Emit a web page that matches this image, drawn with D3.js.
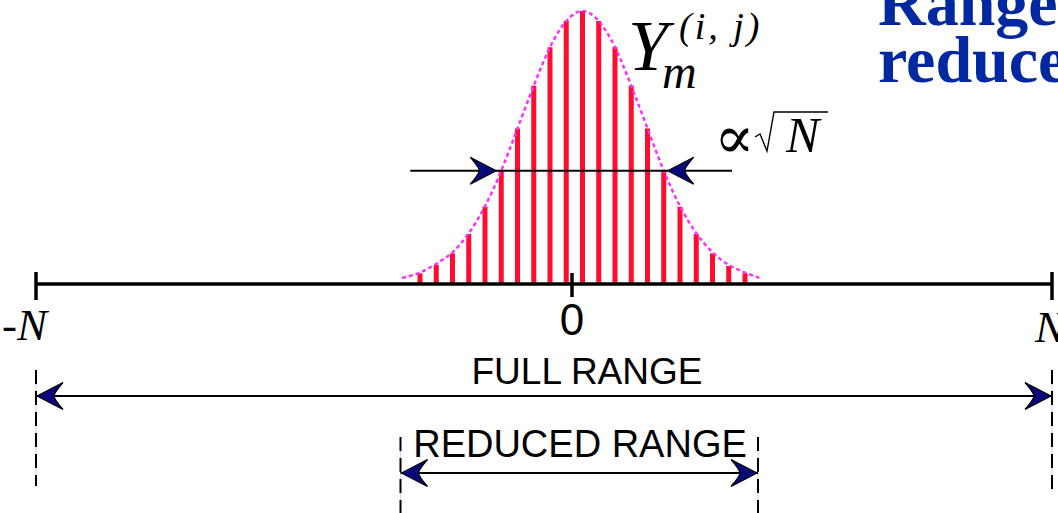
<!DOCTYPE HTML>
<html>
<head>
	<title>Full range vs reduced range</title>
	<meta http-equiv="Content-Type" content="text/html; charset=utf-8">

	<script src="https://cdn.jsdelivr.net/npm/d3@7/dist/d3.min.js"></script>

	<style type="text/css">
		body {
			margin:           0;
			background-color: #ffffff;
		}
		.bar {
			stroke:           #ff0d2e;
			stroke-width:     5;
		}
		.curve {
			fill:             none;
			stroke:           #ff2bff;
			stroke-width:     2.4;
			stroke-dasharray: 4,3;
		}
		.axis {
			stroke:           #000000;
			stroke-width:     3.5;
		}
		.guide {
			stroke:           #000000;
			stroke-width:     2;
			stroke-dasharray: 14,7;
		}
		.shaft {
			stroke:           #000000;
			stroke-width:     2;
		}
		.head {
			fill:             #08087a;
			stroke:           #000000;
			stroke-width:     1.2;
			stroke-linejoin:  miter;
		}
		.math {
			font-family:      "Liberation Serif", serif;
			font-style:       italic;
			fill:             #000000;
		}
		.label {
			font-family:      "Liberation Sans", Arial, sans-serif;
			fill:             #000000;
		}
		.title {
			font-family:      "Liberation Serif", serif;
			font-weight:      bold;
			font-size:        66px;
			fill:             #0028a0;
		}
	</style>
</head>

<body>

	<div id="picture"></div>

	<script>
var width  = 1058;
var height = 513;

// bars Y_m, m = -10 .. 10 (height relative to the peak)
var barIndex = [-10, -9, -8, -7, -6, -5, -4, -3, -2, -1, 0, 1, 2, 3, 4, 5, 6, 7, 8, 9, 10];
var barValue = [0.039, 0.070, 0.112, 0.183, 0.283, 0.415, 0.570, 0.726, 0.867, 0.963, 1.0,
                0.963, 0.867, 0.726, 0.570, 0.415, 0.283, 0.183, 0.112, 0.066, 0.039];

// dashed envelope
var curveIndex = [-11.1, -10, -9, -8, -7, -6, -5, -4, -3, -2, -1, 0, 1, 2, 3, 4, 5, 6, 7, 8, 9, 10, 10.9];
var curveValue = [0.022, 0.042, 0.074, 0.116, 0.186, 0.285, 0.415, 0.570, 0.726, 0.867, 0.963, 1.0,
                  0.963, 0.867, 0.726, 0.570, 0.415, 0.285, 0.186, 0.116, 0.070, 0.042, 0.022];

// main axis ticks
var tickPos   = [-1, 0, 1];
var tickLabel = ["-N", "0", "N"];

// ranges
var fullRange    = [-1, 1];          // axis units
var reducedRange = [-11.2, 10.8];    // bar units
var widthArrow   = [-10.6, 9.2];     // bar units, shaft ends
var widthAt      = 5;                // arrow sits at |m| = 5

var svg = d3.select("#picture")
	.append("svg")
		.attr("width",  width)
		.attr("height", height);

var xAxis = d3.scaleLinear().domain([-1, 0, 1]).range([36, 572, 1052]);
var xBar  = d3.scaleLinear().domain([-10, 10]).range([420, 745]);
var y     = d3.scaleLinear().domain([0, 1]).range([284, 11]);

function ArrowHead(x, yy, dir) {
	// dir = +1 points right, -1 points left
	var L = 26, W = 13.5, n = 17;
	var d = "M" + x + "," + yy +
		"L" + (x - dir * L) + "," + (yy - W) +
		"Q" + (x - dir * n) + "," + (yy - 3) + " " + (x - dir * n) + "," + yy +
		"Q" + (x - dir * n) + "," + (yy + 3) + " " + (x - dir * L) + "," + (yy + W) + "Z";
	svg.append("path").attr("class", "head").attr("d", d);
}

function Guide(x, y0, y1) {
	svg.append("line")
		.attr("x1", x).attr("x2", x).attr("y1", y0).attr("y2", y1)
		.attr("stroke", "#d0d0f0").attr("stroke-width", 1);
	svg.append("line").attr("class", "guide")
		.attr("x1", x).attr("x2", x).attr("y1", y0).attr("y2", y1);
}

// --- bars --- //
svg.selectAll(".bar")
	.data(barIndex)
	.enter().append("line")
		.attr("class", "bar")
		.attr("x1", function(d) { return xBar(d); })
		.attr("x2", function(d) { return xBar(d); })
		.attr("y1", y(0))
		.attr("y2", function(d, i) { return y(barValue[i]); });

// --- envelope --- //
var line = d3.line()
	.x(function(d) { return xBar(d); })
	.y(function(d, i) { return y(curveValue[i]); })
	.curve(d3.curveNatural);

svg.append("path")
	.attr("class", "curve")
	.attr("d", line(curveIndex));

// --- main axis --- //
svg.append("line").attr("class", "axis")
	.attr("x1", xAxis(-1)).attr("x2", xAxis(1))
	.attr("y1", y(0)).attr("y2", y(0));

tickPos.forEach(function(p, i) {
	var half = (p == 0) ? [11, 13] : [12, 16];
	svg.append("line").attr("class", "axis")
		.attr("x1", xAxis(p)).attr("x2", xAxis(p))
		.attr("y1", y(0) - half[0]).attr("y2", y(0) + half[1]);
});

// tick labels
var tl = svg.append("text").attr("class", "math")
	.attr("x", 2).attr("y", 340).style("font-size", "45px");
tl.append("tspan").style("font-style", "normal").text(tickLabel[0].charAt(0));
tl.append("tspan").text(tickLabel[0].charAt(1));

svg.append("text").attr("class", "label")
	.attr("x", xAxis(0)).attr("y", 335)
	.attr("text-anchor", "middle")
	.style("font-size", "44px")
	.text(tickLabel[1]);

svg.append("text").attr("class", "math")
	.attr("x", 1035).attr("y", 342).style("font-size", "45px")
	.text(tickLabel[2]);

// --- width arrows at |m| = 5 --- //
var wy = y(barValue[barIndex.indexOf(-widthAt)]);
svg.append("line").attr("class", "shaft")
	.attr("x1", xBar(widthArrow[0])).attr("x2", xBar(widthArrow[1]))
	.attr("y1", wy).attr("y2", wy);
ArrowHead(xBar(-widthAt) - 5, wy, 1);
ArrowHead(xBar(widthAt) + 4, wy, -1);

// --- full range --- //
Guide(xAxis(fullRange[0]), 370, 486);
Guide(xAxis(fullRange[1]), 370, 490);
svg.append("line").attr("class", "shaft")
	.attr("x1", xAxis(fullRange[0])).attr("x2", xAxis(fullRange[1]))
	.attr("y1", 396).attr("y2", 396);
ArrowHead(xAxis(fullRange[0]) + 1, 396, -1);
ArrowHead(xAxis(fullRange[1]) - 1, 396, 1);

svg.append("text").attr("class", "label")
	.attr("x", 587).attr("y", 384)
	.attr("text-anchor", "middle")
	.style("font-size", "37px")
	.text("FULL RANGE");

// --- reduced range --- //
Guide(xBar(reducedRange[0]), 437, 513);
Guide(xBar(reducedRange[1]), 437, 513);
svg.append("line").attr("class", "shaft")
	.attr("x1", xBar(reducedRange[0])).attr("x2", xBar(reducedRange[1]))
	.attr("y1", 473).attr("y2", 473);
ArrowHead(xBar(reducedRange[0]) + 1, 473, -1);
ArrowHead(xBar(reducedRange[1]) - 1, 473, 1);

svg.append("text").attr("class", "label")
	.attr("x", 580).attr("y", 457)
	.attr("text-anchor", "middle")
	.style("font-size", "38px")
	.text("REDUCED RANGE");

// --- Y_m^(i,j) --- //
svg.append("text").attr("class", "math")
	.attr("x", 628).attr("y", 70).style("font-size", "72px")
	.text("Y");
svg.append("text").attr("class", "math")
	.attr("x", 679).attr("y", 39).style("font-size", "38px")
	.style("letter-spacing", "3px")
	.text("(i, j)");
svg.append("text").attr("class", "math")
	.attr("x", 662).attr("y", 88).style("font-size", "48px")
	.text("m");

// --- proportional to sqrt(N) --- //
svg.append("text")
	.attr("x", 714).attr("y", 158)
	.style("font-family", "'DejaVu Serif', serif").style("font-size", "60px")
	.text("\u221D");
svg.append("path")
	.attr("d", "M755,137 L760,134 L767,151 L774,112 L828,112")
	.attr("fill", "none").attr("stroke", "#000").attr("stroke-width", 1.4);
svg.append("text").attr("class", "math")
	.attr("x", 786).attr("y", 152).style("font-size", "50px")
	.text("N");

// --- title, cut by the right edge --- //
svg.append("text").attr("class", "title")
	.attr("x", 878).attr("y", 25)
	.text("Range");
svg.append("text").attr("class", "title")
	.attr("x", 878).attr("y", 82)
	.text("reduced");
	</script>
</body>
</html>
